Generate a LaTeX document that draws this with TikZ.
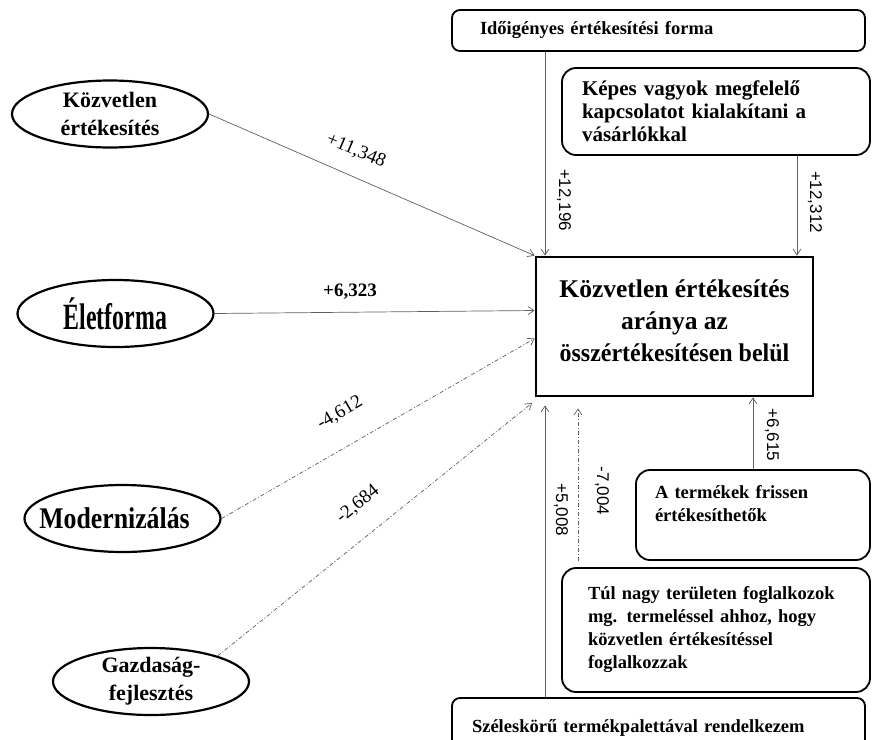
\documentclass[tikz,border=0pt]{standalone}
\usepackage{fontspec}
\setmainfont{Liberation Serif}
\newfontfamily\labelsans{Liberation Sans}
\usetikzlibrary{shapes.geometric, arrows.meta, calc}
\definecolor{linkgray}{RGB}{95,95,95}
\newcommand{\boxtxt}{\fontsize{18.5}{23}\selectfont\bfseries}

\begin{document}
\begin{tikzpicture}[x=1pt, y=-1pt,
    box/.style={draw, line width=1.8pt, rounded corners=14pt, align=left, font=\boxtxt},
    oval/.style={ellipse, draw, line width=2.2pt, minimum width=196pt, minimum height=67pt, inner sep=0pt},
    ovaltxt/.style={align=center, font=\fontsize{22}{28}\selectfont\bfseries},
    num/.style={font=\fontsize{19}{19}\selectfont, inner sep=1pt},
    vnum/.style={font=\labelsans\fontsize{17}{17}\selectfont, rotate=-90, inner sep=1pt},
    link/.style={draw=linkgray, line width=0.7pt, -{Straight Barb[length=6pt, width=8pt]}},
    neg/.style={link, dash pattern=on 4pt off 2pt on 1pt off 2pt}]
    \useasboundingbox (0,0) rectangle (872,739);

    % target
    \node[draw, line width=2.8pt, minimum width=277pt, minimum height=139pt, align=center,
          font=\fontsize{25.5}{32}\selectfont\bfseries] (kozv) at (674.5,326.5)
          {Közvetlen értékesítés\\aránya az\\\scalebox{0.94}[1]{összértékesítésen belül}\\[-20pt]\mbox{}};

    % factors on the left
    \node[oval, label={[ovaltxt]center:Közvetlen\\értékesítés}] (e1) at (110,114) {};
    \node[oval, label={[font=\fontsize{37}{40}\selectfont\bfseries]center:{\scalebox{0.645}[1]{Életforma}}}] (e2) at (115.5,313.5) {};
    \node[oval, label={[font=\fontsize{30}{34}\selectfont\bfseries, xshift=-8pt]center:{\scalebox{0.86}[1]{Modernizálás}}}] (e3) at (122.5,518.5) {};
    \node[oval, label={[ovaltxt]center:Gazdaság-\\fejlesztés}] (e4) at (151,681.5) {};

    % statements
    \node[box, rounded corners=8pt, minimum height=41pt, inner xsep=28pt, text width=357pt] (ido) at (658.5,30.5)
          {Időigényes értékesítési forma};
    \node[box, font=\fontsize{21}{23}\selectfont\bfseries, minimum height=87pt, inner xsep=20pt, text width=268pt] (kepes) at (716,111.5)
          {Képes vagyok megfelelő\\kapcsolatot kialakítani a\\vásárlókkal};
    \node[box, minimum height=90pt, inner xsep=19pt, text width=196pt] (friss) at (753,515)
          {A termékek frissen\\értékesíthetők\\\mbox{}};
    \node[box, minimum height=124pt, inner xsep=26pt, text width=256pt] (tul) at (716,630)
          {Túl nagy területen foglalkozok\\mg. termeléssel ahhoz, hogy\\közvetlen értékesítéssel\\foglalkozzak};
    \node[box, rounded corners=8pt, minimum height=60pt, inner xsep=20pt, text width=373pt] (szeles) at (658.5,728)
          {Széleskörű termékpalettával rendelkezem};

    \coordinate (ta) at (545,0);
    \coordinate (tb) at (797,0);
    \coordinate (tc) at (578,0);
    \coordinate (gend) at (532,403);

    % paths
    \draw[link] (e1.east) -- (kozv.north west);
    \draw[link] (e2.east) -- ([yshift=16pt]kozv.west);
    \draw[neg] (e3.east) -- ([yshift=-12pt]kozv.west);
    \draw[neg] (e4.21) -- (gend);
    \draw[link] (ido.south -| ta) -- (kozv.north -| ta);
    \draw[link] (kepes.south -| tb) -- (kozv.north -| tb);
    \draw[link, shorten >=8pt] (szeles.north -| ta) -- (kozv.south -| ta);
    \draw[neg, shorten <=6pt, shorten >=11pt] (tul.north -| tc) -- (kozv.south -| tc);
    \draw[link] (friss.north) -- (friss.north |- kozv.south);

    % weights
    \node[num, rotate=-23] (w1) at (356,151) {+11,348};
    \node[num, font=\fontsize{19}{19}\selectfont\bfseries] (w2) at (350,292) {+6,323};
    \node[num, rotate=30] (w3) at (340,413) {-4,612};
    \node[num, rotate=39] (w4) at (358,504) {-2,684};
    \node[vnum] (w5) at (564,200) {+12,196};
    \node[vnum] (w6) at (815,202) {+12,312};
    \node[vnum] (w7) at (772,435) {+6,615};
    \node[vnum] (w8) at (561,510) {+5,008};
    \node[vnum] (w9) at (602,491) {-7,004};
\end{tikzpicture}
\end{document}
